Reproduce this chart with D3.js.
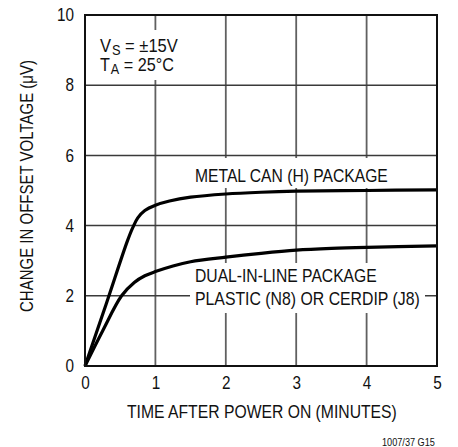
<!DOCTYPE html>
<html><head><meta charset="utf-8">
<script src="https://cdn.jsdelivr.net/npm/d3@7"></script>
<style>
body{margin:0;background:#fff}
text{font-family:"Liberation Sans Narrow","Arial Narrow","Liberation Sans",sans-serif;fill:#111}
</style></head><body>
<svg id="c" width="458" height="447"></svg>
<script>
const xTicks=[0,1,2,3,4,5];
const yTicks=[0,2,4,6,8,10];
const metalX=[0,0.3,0.6,0.68,0.75,0.85,1,1.2,1.5,2,2.5,3,4,5];
const metalY=[0,1.76,3.55,3.95,4.22,4.43,4.58,4.7,4.81,4.9,4.95,4.98,5.0,5.02];
const dipX=[0,0.25,0.52,0.7,0.85,1,1.25,1.5,2,2.5,3,3.5,4,5];
const dipY=[0,1.0,2.0,2.38,2.57,2.69,2.85,2.97,3.1,3.21,3.3,3.35,3.38,3.42];
const labels=["METAL CAN (H) PACKAGE","DUAL-IN-LINE PACKAGE","PLASTIC (N8) OR CERDIP (J8)"];
const xTitle="TIME AFTER POWER ON (MINUTES)";
const yTitle="CHANGE IN OFFSET VOLTAGE (μV)";
const note="1007/37 G15";

const svg=d3.select("#c");
const x=d3.scaleLinear().domain([0,5]).range([85,437]);
const y=d3.scaleLinear().domain([0,10]).range([366,15]);

function squeeze(sel,x0,w){
  const cur=sel.node().getComputedTextLength();
  const k=w/cur;
  sel.attr("transform",`translate(${x0},0) scale(${k},1) translate(${-x0},0)`);
}

// grid
const g=svg.append("g");
g.selectAll(".v").data(xTicks.slice(1,-1)).join("line")
 .attr("x1",d=>x(d)).attr("x2",d=>x(d)).attr("y1",y(0)).attr("y2",y(10))
 .attr("stroke","#606060").attr("stroke-width",1.8);
g.selectAll(".h").data(yTicks.slice(1,-1)).join("line")
 .attr("y1",d=>y(d)).attr("y2",d=>y(d)).attr("x1",x(0)).attr("x2",x(5))
 .attr("stroke","#3a3a3a").attr("stroke-width",1.5);

// white masks behind labels
const masks=[[93,30,72,50],[190,158,210,30],[190,263,235,50]];
svg.selectAll(".m").data(masks).join("rect")
 .attr("x",d=>d[0]).attr("y",d=>d[1]).attr("width",d=>d[2]).attr("height",d=>d[3]).attr("fill","#fff");

// curves
const line=d3.line().x(d=>x(d[0])).y(d=>y(d[1])).curve(d3.curveCatmullRom.alpha(0.5));
svg.append("path").attr("d",line(metalX.map((v,i)=>[v,metalY[i]])))
 .attr("fill","none").attr("stroke","#000").attr("stroke-width",3.2);
svg.append("path").attr("d",line(dipX.map((v,i)=>[v,dipY[i]])))
 .attr("fill","none").attr("stroke","#000").attr("stroke-width",3.2);

// frame
svg.append("rect").attr("x",x(0)).attr("y",y(10)).attr("width",x(5)-x(0)).attr("height",y(0)-y(10))
 .attr("fill","none").attr("stroke","#111").attr("stroke-width",2);

// axes
const ax=svg.append("g").attr("transform",`translate(0,${y(0)})`)
 .call(d3.axisBottom(x).tickValues(xTicks).tickSize(0).tickPadding(10).tickFormat(d3.format("d")));
ax.select(".domain").remove();
ax.selectAll("text").attr("font-size",18).attr("font-family",null).attr("dy","0.75em")
 .each(function(d){ squeeze(d3.select(this),0,this.getComputedTextLength()*0.85); });
const ay=svg.append("g").attr("transform",`translate(${x(0)},0)`)
 .call(d3.axisLeft(y).tickValues(yTicks).tickSize(0).tickPadding(11).tickFormat(d3.format("d")));
ay.select(".domain").remove();
ay.selectAll("text").attr("font-size",18).attr("font-family",null)
 .each(function(d){ squeeze(d3.select(this),-11,this.getComputedTextLength()*0.85); });

const xt=svg.append("text").attr("x",127).attr("y",418).attr("font-size",18).text(xTitle);
squeeze(xt,127,270);
svg.append("text").attr("transform",`translate(33,186) rotate(-90)`).attr("text-anchor","middle")
 .attr("font-size",18).attr("textLength",252).attr("lengthAdjust","spacingAndGlyphs").text(yTitle);

const t1=svg.append("text").attr("x",100).attr("y",52).attr("font-size",18);
t1.append("tspan").text("V");
t1.append("tspan").attr("dy",3).attr("dx",1).attr("font-size",14).text("S");
t1.append("tspan").attr("dy",-3).text(" = ±15V");
squeeze(t1,100,77);
const t2=svg.append("text").attr("x",100).attr("y",71).attr("font-size",18);
t2.append("tspan").text("T");
t2.append("tspan").attr("dy",3).attr("dx",1).attr("font-size",14).text("A");
t2.append("tspan").attr("dy",-3).text(" = 25°C");
squeeze(t2,100,73);

const l1=svg.append("text").attr("x",195).attr("y",182).attr("font-size",18).text(labels[0]);
squeeze(l1,195,193);
const l2=svg.append("text").attr("x",195).attr("y",282).attr("font-size",18).text(labels[1]);
squeeze(l2,195,182);
const l3=svg.append("text").attr("x",195).attr("y",305).attr("font-size",18).text(labels[2]);
squeeze(l3,195,225);
const nt=svg.append("text").attr("x",382).attr("y",446).attr("font-size",10).text(note);
squeeze(nt,382,53);
</script></body></html>
